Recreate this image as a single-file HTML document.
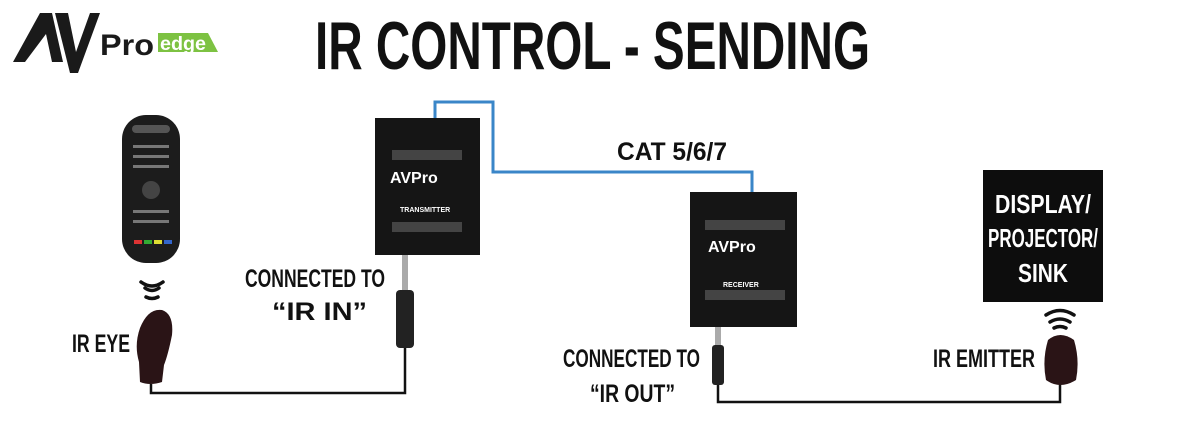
<!DOCTYPE html>
<html><head><style>
html,body{margin:0;padding:0;background:#fff;}
svg{display:block;}
text{font-family:"Liberation Sans Narrow","Liberation Sans",sans-serif;font-weight:bold;}
</style></head><body>
<svg width="1200" height="445" viewBox="0 0 1200 445" xmlns="http://www.w3.org/2000/svg">
<rect width="1200" height="445" fill="#fff"/>
<!-- logo -->
<polygon points="13,62 40,13 52,13 63,62 52,62 46,34 25,62" fill="#1a1a1a"/>
<polygon points="55,13 68,13 76,52 90,13 100,13 78,73 70,73" fill="#1a1a1a"/>
<text x="100" y="55" font-size="30" fill="#1a1a1a" textLength="54" lengthAdjust="spacingAndGlyphs" style="font-family:'Liberation Sans',sans-serif">Pro</text>
<polygon points="158,33 208,33 218,52 158,52" fill="#7dc242"/>
<text x="160" y="50" font-size="19" fill="#fff" textLength="46" lengthAdjust="spacingAndGlyphs" style="font-family:'Liberation Sans',sans-serif">edge</text>
<!-- title -->
<text x="315" y="69" font-size="68" fill="#111" textLength="555" lengthAdjust="spacingAndGlyphs">IR CONTROL - SENDING</text>
<!-- remote -->
<rect x="122" y="115" width="58" height="148" rx="24" fill="#1c1c1c"/>
<rect x="132" y="125" width="38" height="8" rx="4" fill="#555"/>
<g fill="#777">
<rect x="133" y="145" width="36" height="3"/><rect x="133" y="155" width="36" height="3"/><rect x="133" y="165" width="36" height="3"/>
<circle cx="151" cy="190" r="9" fill="#444"/>
<rect x="133" y="210" width="36" height="3"/><rect x="133" y="220" width="36" height="3"/>
</g>
<rect x="134" y="240" width="8" height="4" fill="#d33"/><rect x="144" y="240" width="8" height="4" fill="#3a3"/><rect x="154" y="240" width="8" height="4" fill="#dd3"/><rect x="164" y="240" width="8" height="4" fill="#36c"/>
<!-- waves -->
<g fill="none" stroke="#111" stroke-width="3.5" stroke-linecap="round">
<path d="M145,288 Q152,293 159,288"/><path d="M141,282 Q152,290 163,282"/><path d="M146,297 Q152,300 158,297"/>
<path d="M1050,322 Q1060,316 1070,322"/><path d="M1046,315 Q1060,306 1074,315"/><path d="M1054,328 Q1060,325 1066,328"/>
</g>
<!-- IR eye -->
<path d="M140,328 Q148,308 162,310 Q174,314 172,335 Q168,355 164,365 L162,382 Q150,386 140,382 L139,362 Q134,345 140,328 Z" fill="#2a1416"/>
<!-- cables -->
<g fill="none" stroke="#111" stroke-width="2.5">
<path d="M151,384 L151,393 L405,393 L405,348"/>
<path d="M718,385 L718,402 L1060,402 L1060,384"/>
</g>
<path d="M435,118 L435,102 L493,102 L493,172 L752,172 L752,192" fill="none" stroke="#3a86c8" stroke-width="3"/>
<!-- transmitter -->
<rect x="375" y="118" width="105" height="137" fill="#151515"/>
<g fill="#444"><rect x="392" y="150" width="70" height="10"/><rect x="392" y="222" width="70" height="10"/></g>
<text x="390" y="183" font-size="16" fill="#fff" style="font-family:'Liberation Sans',sans-serif">AVPro</text>
<text x="400" y="212" font-size="7" fill="#fff" style="font-family:'Liberation Sans',sans-serif">TRANSMITTER</text>
<!-- jack transmitter -->
<rect x="402" y="255" width="6" height="35" fill="#aaa"/>
<rect x="396" y="290" width="18" height="58" rx="4" fill="#222"/>
<!-- receiver -->
<rect x="690" y="192" width="107" height="135" fill="#151515"/>
<g fill="#444"><rect x="705" y="220" width="80" height="10"/><rect x="705" y="290" width="80" height="10"/></g>
<text x="708" y="252" font-size="16" fill="#fff" style="font-family:'Liberation Sans',sans-serif">AVPro</text>
<text x="723" y="287" font-size="7" fill="#fff" style="font-family:'Liberation Sans',sans-serif">RECEIVER</text>
<rect x="715" y="327" width="6" height="20" fill="#aaa"/>
<rect x="712" y="345" width="12" height="40" rx="3" fill="#222"/>
<!-- display -->
<rect x="983" y="170" width="120" height="132" fill="#0d0d0d"/>
<text x="1043" y="213" font-size="26" fill="#fff" text-anchor="middle" textLength="96" lengthAdjust="spacingAndGlyphs">DISPLAY/</text>
<text x="1043" y="247" font-size="26" fill="#fff" text-anchor="middle" textLength="110" lengthAdjust="spacingAndGlyphs">PROJECTOR/</text>
<text x="1043" y="282" font-size="26" fill="#fff" text-anchor="middle" textLength="50" lengthAdjust="spacingAndGlyphs">SINK</text>
<!-- emitter -->
<path d="M1048,340 Q1060,330 1074,340 Q1080,360 1076,380 Q1060,390 1046,380 Q1042,360 1048,340 Z" fill="#2a1416"/>
<!-- labels -->
<g fill="#111" font-size="25">
<text x="72" y="352" textLength="58" lengthAdjust="spacingAndGlyphs">IR EYE</text>
<text x="245" y="287" textLength="140" lengthAdjust="spacingAndGlyphs">CONNECTED TO</text>
<text x="272" y="320" textLength="95" lengthAdjust="spacingAndGlyphs">“IR IN”</text>
<text x="617" y="160" textLength="110" lengthAdjust="spacingAndGlyphs">CAT 5/6/7</text>
<text x="563" y="367" textLength="137" lengthAdjust="spacingAndGlyphs">CONNECTED TO</text>
<text x="590" y="402" textLength="85" lengthAdjust="spacingAndGlyphs">“IR OUT”</text>
<text x="933" y="367" textLength="102" lengthAdjust="spacingAndGlyphs">IR EMITTER</text>
</g>
</svg>
</body></html>
